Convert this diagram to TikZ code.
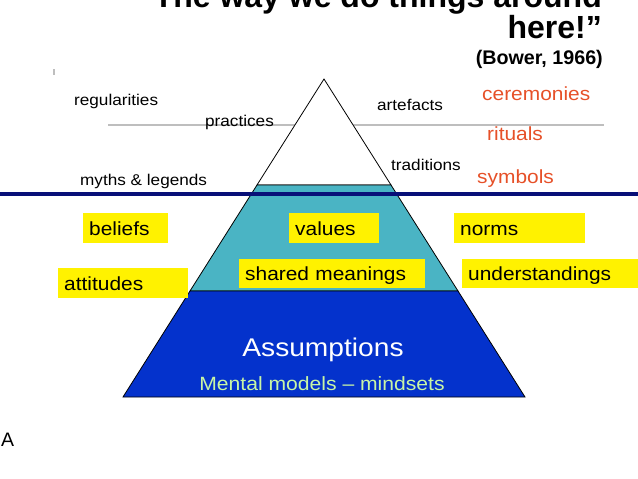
\documentclass[tikz,border=0pt]{standalone}
\usepackage{fontspec}
\setmainfont{Liberation Sans}
\newfontfamily\bodyfont[FakeStretch=1.1]{Liberation Sans}
\definecolor{navy}{RGB}{8,16,120}
\definecolor{teal}{RGB}{74,180,196}
\definecolor{deepblue}{RGB}{4,50,204}
\definecolor{redor}{RGB}{230,80,40}
\definecolor{palegreen}{RGB}{200,245,165}
\definecolor{lgray}{RGB}{190,190,190}
\begin{document}
\begin{tikzpicture}[x=1pt,y=-1pt,
  lbl/.style={anchor=base west,inner sep=0pt,font=\bodyfont\fontsize{15.6}{18}\selectfont},
  redlbl/.style={anchor=base west,inner sep=0pt,text=redor,font=\bodyfont\fontsize{19}{22}\selectfont},
  ybox/.style={anchor=north west,fill=yellow,inner xsep=6pt,inner ysep=0pt,minimum height=30pt,
    text height=16pt,text depth=2pt,align=left,font=\bodyfont\fontsize{19}{22}\selectfont},
  layer/.style={draw=black,line width=0.8pt,line join=miter}
]
\useasboundingbox (0,0) rectangle (638,479);
% title
\node[anchor=base east,inner sep=0pt,font=\bfseries\fontsize{32}{36}\selectfont] (t1) at (602,7) {“The way we do things around};
\node[anchor=base east,inner sep=0pt,font=\bfseries\fontsize{32}{36}\selectfont] (t2) at (602,38) {here!”};
\node[anchor=base east,inner sep=0pt,font=\bfseries\fontsize{19.7}{22}\selectfont] (cite) at (603,64) {(Bower, 1966)};
% tiny mark
\fill[lgray] (53,69) rectangle (55,75);
% gray line
\coordinate (gl) at (108,125);
\coordinate (gr) at (604,125);
\draw[lgray,line width=1.5pt] (gl) -- (gr);
% pyramid
\coordinate (apex) at (324,79);
\coordinate (a1) at (257,185);
\coordinate (a2) at (391,185);
\coordinate (b1) at (190,291);
\coordinate (b2) at (458,291);
\coordinate (c1) at (123,397);
\coordinate (c2) at (525,397);
\filldraw[layer,fill=white] (apex) -- (a2) -- (a1) -- cycle;
\filldraw[layer,fill=teal] (a1) -- (a2) -- (b2) -- (b1) -- cycle;
\filldraw[layer,fill=deepblue] (b1) -- (b2) -- (c2) -- (c1) -- cycle;
% navy line
\coordinate (nl) at (0,194);
\coordinate (nr) at (638,194);
\draw[navy,line width=4pt] (nl) -- (nr);
% black labels
\node[lbl] (reg) at (74,105) {regularities};
\node[lbl] (pra) at (205,126) {practices};
\node[lbl] (myt) at (80,185) {myths \& legends};
\node[lbl] (art) at (377,110) {artefacts};
\node[lbl] (tra) at (391,170) {traditions};
% red labels
\node[redlbl] (cer) at (482,100) {ceremonies};
\node[redlbl] (rit) at (487,140) {rituals};
\node[redlbl] (sym) at (477,183) {symbols};
% yellow boxes
\node[ybox,text width=73pt] (bel) at (83,213) {beliefs};
\node[ybox,text width=78pt] (val) at (289,213) {values};
\node[ybox,text width=119pt] (nor) at (454,213) {norms};
\node[ybox,text width=118pt] (att) at (58,268) {attitudes};
\node[ybox,text width=174pt,minimum height=29pt] (sha) at (239,259) {shared meanings};
\node[ybox,text width=164pt,minimum height=29pt] (und) at (462,259) {understandings};
% base texts
\node[anchor=base,inner sep=0pt,text=white,font=\bodyfont\fontsize{25.6}{28}\selectfont] (ass) at (323,356) {Assumptions};
\node[anchor=base,inner sep=0pt,text=palegreen,font=\bodyfont\fontsize{19.2}{22}\selectfont] (men) at (322,390) {Mental models – mindsets};
% A
\node[anchor=base west,inner sep=0pt,font=\fontsize{19.5}{22}\selectfont] (A) at (1,446) {A};
\end{tikzpicture}
\end{document}
